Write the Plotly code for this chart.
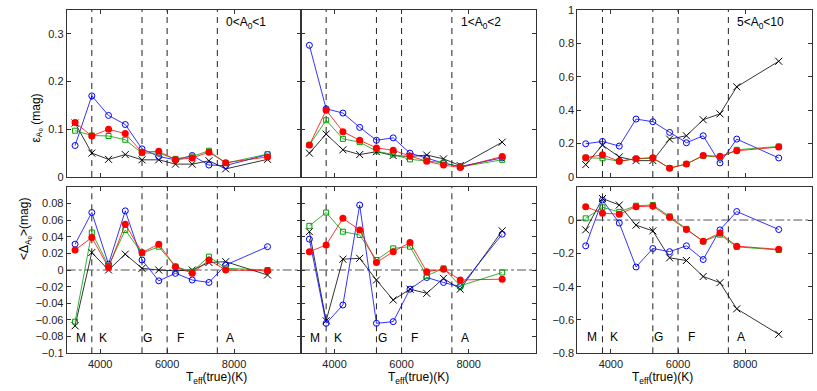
import plotly.graph_objects as go
from plotly.subplots import make_subplots

# effective temperature bins (K)
teff = [3250, 3750, 4250, 4750, 5250, 5750, 6250, 6750, 7250, 7750, 9000]

# top row: epsilon_A0 (mag)
eps_blue_1 = [0.066, 0.170, 0.129, 0.110, 0.059, 0.043, 0.036, 0.045, 0.025, 0.024, 0.047]
eps_green_1 = [0.097, 0.087, 0.086, 0.078, 0.050, 0.050, 0.038, 0.043, 0.055, 0.029, 0.048]
eps_red_1 = [0.114, 0.086, 0.100, 0.091, 0.052, 0.054, 0.036, 0.040, 0.052, 0.030, 0.042]
eps_black_1 = [0.113, 0.050, 0.037, 0.047, 0.036, 0.036, 0.027, 0.027, 0.034, 0.017, 0.037]

eps_blue_2 = [0.276, 0.143, 0.134, 0.104, 0.077, 0.082, 0.050, 0.040, 0.029, 0.022, 0.040]
eps_green_2 = [0.067, 0.119, 0.080, 0.073, 0.054, 0.047, 0.037, 0.034, 0.030, 0.021, 0.036]
eps_red_2 = [0.067, 0.140, 0.095, 0.077, 0.061, 0.056, 0.044, 0.033, 0.025, 0.020, 0.043]
eps_black_2 = [0.050, 0.090, 0.057, 0.047, 0.053, 0.045, 0.043, 0.046, 0.038, 0.024, 0.073]

eps_blue_3 = [0.199, 0.213, 0.185, 0.347, 0.331, 0.267, 0.205, 0.247, 0.084, 0.227, 0.114]
eps_green_3 = [0.116, 0.112, 0.094, 0.110, 0.112, 0.054, 0.078, 0.127, 0.118, 0.163, 0.183]
eps_red_3 = [0.116, 0.133, 0.094, 0.110, 0.116, 0.052, 0.078, 0.129, 0.124, 0.157, 0.179]
eps_black_3 = [0.074, 0.191, 0.120, 0.098, 0.098, 0.227, 0.247, 0.343, 0.378, 0.540, 0.693]

# bottom row: <Delta_A0> (mag)
dlt_blue_1 = [0.031, 0.069, 0.007, 0.071, 0.012, -0.013, -0.004, -0.012, -0.015, 0.006, 0.028]
dlt_green_1 = [-0.062, 0.045, 0.005, 0.048, 0.020, 0.028, 0.004, -0.002, 0.016, 0.002, 0.000]
dlt_red_1 = [0.024, 0.039, 0.003, 0.055, 0.021, 0.031, 0.004, -0.004, 0.012, 0.000, -0.001]
dlt_black_1 = [-0.067, 0.021, 0.000, 0.019, 0.002, 0.000, -0.001, 0.000, 0.009, 0.010, -0.006]

dlt_blue_2 = [0.037, -0.064, -0.042, 0.078, -0.064, -0.062, -0.023, -0.009, -0.015, -0.020, 0.043]
dlt_green_2 = [0.053, 0.069, 0.046, 0.042, 0.012, 0.026, 0.028, -0.007, 0.002, -0.019, -0.003]
dlt_red_2 = [0.022, 0.030, 0.062, 0.048, 0.009, 0.022, 0.033, -0.002, 0.001, -0.012, -0.011]
dlt_black_2 = [0.046, -0.061, 0.013, 0.014, -0.012, -0.036, -0.023, -0.028, -0.010, -0.023, 0.047]

dlt_blue_3 = [-0.155, 0.120, -0.018, -0.282, -0.171, -0.190, -0.155, -0.237, -0.059, 0.051, -0.057]
dlt_green_3 = [0.010, 0.076, 0.049, 0.086, 0.090, 0.022, -0.053, -0.129, -0.088, -0.161, -0.180]
dlt_red_3 = [0.080, 0.041, 0.035, 0.080, 0.084, 0.016, -0.057, -0.127, -0.078, -0.157, -0.176]
dlt_black_3 = [-0.059, 0.129, 0.090, -0.031, -0.065, -0.227, -0.243, -0.339, -0.376, -0.533, -0.686]

bin_labels = ["0<A<sub>0</sub><1", "1<A<sub>0</sub><2", "5<A<sub>0</sub><10"]
type_edges = [3750, 5250, 6000, 7500]
type_names = ["M", "K", "G", "F", "A"]
type_pos = [3430, 4090, 5420, 6390, 7890]

panels = [
    (1, 1, eps_blue_1, eps_green_1, eps_red_1, eps_black_1),
    (1, 2, eps_blue_2, eps_green_2, eps_red_2, eps_black_2),
    (1, 3, eps_blue_3, eps_green_3, eps_red_3, eps_black_3),
    (2, 1, dlt_blue_1, dlt_green_1, dlt_red_1, dlt_black_1),
    (2, 2, dlt_blue_2, dlt_green_2, dlt_red_2, dlt_black_2),
    (2, 3, dlt_blue_3, dlt_green_3, dlt_red_3, dlt_black_3),
]

W, H = 817, 391
FONT = "Liberation Sans, Arial"


def px(p):
    return p / W


def py(p):
    return 1 - p / H


fig = make_subplots(rows=2, cols=3)

for r, c, b, g, rd, k in panels:
    fig.add_trace(go.Scatter(x=teff, y=k, mode="lines+markers",
                             line=dict(color="black", width=0.8),
                             marker=dict(symbol="x-thin-open", size=7, line=dict(color="black", width=1))),
                  row=r, col=c)
    fig.add_trace(go.Scatter(x=teff, y=b, mode="lines+markers",
                             line=dict(color="#0000ff", width=0.8),
                             marker=dict(symbol="circle-open", size=6, color="#0000ff", line=dict(width=1))),
                  row=r, col=c)
    fig.add_trace(go.Scatter(x=teff, y=g, mode="lines+markers",
                             line=dict(color="#00a000", width=0.8),
                             marker=dict(symbol="square-open", size=5, color="#00a000", line=dict(width=1))),
                  row=r, col=c)
    fig.add_trace(go.Scatter(x=teff, y=rd, mode="lines+markers",
                             line=dict(color="#ff0000", width=0.8),
                             marker=dict(symbol="circle", size=7, color="#ff0000")),
                  row=r, col=c)

# panel edges in window pixels
xdom = [(66.7, 301), (301, 535.7), (577.3, 812.3)]
ydom = [(10, 177), (186.7, 353.3)]

axis_style = dict(showline=True, mirror="ticks", linecolor="#333", linewidth=1, automargin=False,
                  ticks="inside", ticklen=4, tickcolor="#333", showgrid=False, zeroline=False,
                  ticklabeloverflow="allow",
                  tickfont=dict(family=FONT, size=11, color="#222"))

for r, c, *_ in panels:
    idx = (r - 1) * 3 + c
    xs = "xaxis" if idx == 1 else "xaxis%d" % idx
    ys = "yaxis" if idx == 1 else "yaxis%d" % idx
    left, right = xdom[c - 1]
    top, bottom = ydom[r - 1]
    fig.layout[xs].update(domain=[px(left), px(right)], range=[3000, 10000],
                          tickvals=[4000, 6000, 8000], showticklabels=(r == 2), **axis_style)
    if r == 1:
        yr = [0, 1] if c == 3 else [0, 0.35]
        tv = [0, 0.2, 0.4, 0.6, 0.8, 1] if c == 3 else [0, 0.1, 0.2, 0.3]
    else:
        yr = [-0.8, 0.2] if c == 3 else [-0.1, 0.1]
        tv = [-0.8, -0.6, -0.4, -0.2, 0] if c == 3 else [-0.1, -0.08, -0.06, -0.04, -0.02, 0, 0.02, 0.04, 0.06, 0.08]
    fig.layout[ys].update(domain=[py(bottom), py(top)], range=yr, tickvals=tv,
                          showticklabels=(c != 2), **axis_style)

    xref = "x" if idx == 1 else "x%d" % idx
    yref = "y" if idx == 1 else "y%d" % idx
    for e in type_edges:
        fig.add_shape(type="line", xref=xref, yref=yref + " domain", x0=e, x1=e, y0=0, y1=1,
                      line=dict(color="#222", width=1, dash="6px,5px"), layer="below")
    if r == 1:
        fig.add_annotation(x=7700, y=yr[1] - (yr[1] - yr[0]) * 0.08, xref=xref, yref=yref,
                           text=bin_labels[c - 1], showarrow=False, xanchor="left",
                           font=dict(family=FONT, size=12, color="black"))
    else:
        fig.add_shape(type="line", xref=xref + " domain", yref=yref, x0=0, x1=1, y0=0, y1=0,
                      line=dict(color="#555", width=1, dash="dashdot"), layer="below")
        ty = -0.7 if c == 3 else -0.082
        for name, xp in zip(type_names, type_pos):
            fig.add_annotation(x=xp, y=ty, xref=xref, yref=yref, text=name, showarrow=False,
                               font=dict(family=FONT, size=12, color="black"))
        fig.add_annotation(x=px((left + right) / 2), y=py(368), xref="paper", yref="paper",
                           yanchor="top", text="T<sub>eff</sub>(true)(K)", showarrow=False,
                           font=dict(family=FONT, size=12, color="black"))

fig.add_annotation(x=px(26), y=py(92), xref="paper", yref="paper", textangle=-90,
                   text="ε<sub>A₀</sub> (mag)", showarrow=False,
                   font=dict(family=FONT, size=12, color="black"))
fig.add_annotation(x=px(15), y=py(262), xref="paper", yref="paper", textangle=-90,
                   text="<Δ<sub>A₀</sub>>(mag)", showarrow=False,
                   font=dict(family=FONT, size=12, color="black"))

fig.update_layout(width=W, height=H, margin=dict(l=0, r=0, t=0, b=0),
                  showlegend=False, plot_bgcolor="white", paper_bgcolor="white")

# drop the default page margin so the figure fills the window exactly
fig.write_html("out.html", config={"displayModeBar": False},
               post_script="document.body.style.margin='0';")
